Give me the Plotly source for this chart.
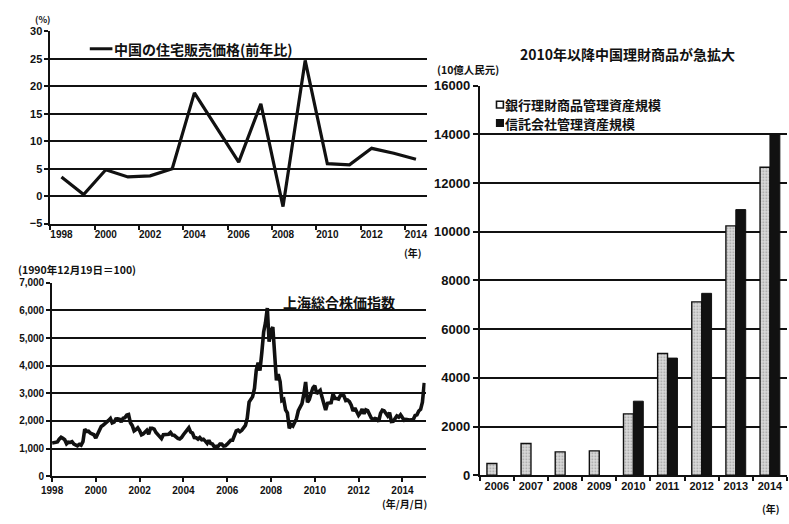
import pandas as pd
import plotly.graph_objects as go

# ---- China housing sale price, year-on-year (%) ----
house_years = list(range(1998, 2015))
house_yoy = [3.5, 0.3, 4.8, 3.5, 3.7, 5.0, 18.8, 12.6, 6.2, 16.8, -1.9, 24.7, 5.9, 5.7, 8.7, 7.8, 6.7]

# ---- Shanghai Composite index, month-end levels (1990-12-19 = 100) ----
sse_1998 = [1210, 1200, 1240, 1340, 1410, 1370, 1320, 1170, 1230, 1220, 1250, 1160]
sse_1999 = [1140, 1100, 1150, 1120, 1250, 1700, 1620, 1630, 1560, 1530, 1500, 1380]
sse_2000 = [1520, 1700, 1800, 1840, 1890, 1930, 2020, 2090, 1930, 1960, 2070, 2080]
sse_2001 = [2060, 1960, 2100, 2120, 2210, 2230, 1930, 1830, 1640, 1690, 1750, 1650]
sse_2002 = [1500, 1530, 1600, 1660, 1520, 1730, 1730, 1700, 1580, 1510, 1440, 1360]
sse_2003 = [1500, 1510, 1500, 1520, 1580, 1490, 1480, 1420, 1370, 1350, 1400, 1500]
sse_2004 = [1590, 1680, 1750, 1600, 1560, 1400, 1390, 1340, 1400, 1320, 1340, 1270]
sse_2005 = [1190, 1300, 1180, 1160, 1060, 1080, 1080, 1160, 1160, 1090, 1100, 1160]
sse_2006 = [1260, 1300, 1300, 1440, 1640, 1670, 1610, 1660, 1750, 1840, 2100, 2680]
sse_2007 = [2790, 2880, 3180, 3840, 4110, 3820, 4470, 5220, 5550, 6090, 4870, 5260]
sse_2008 = [5400, 4350, 3470, 3690, 3430, 2740, 2780, 2400, 2290, 1730, 1870, 1820]
sse_2009 = [1990, 2080, 2370, 2480, 2630, 2960, 3410, 2670, 2780, 3000, 3200, 3280]
sse_2010 = [2990, 3050, 3110, 2870, 2590, 2400, 2640, 2640, 2660, 2980, 2820, 2810]
sse_2011 = [2790, 2910, 2930, 2910, 2740, 2760, 2700, 2570, 2360, 2470, 2330, 2200]
sse_2012 = [2290, 2430, 2260, 2400, 2370, 2230, 2100, 2050, 2090, 2070, 1980, 2270]
sse_2013 = [2390, 2370, 2240, 2180, 2300, 1980, 1990, 2100, 2180, 2140, 2220, 2120]
sse_2014 = [2030, 2060, 2030, 2030, 2040, 2050, 2200, 2220, 2360, 2420, 2680, 3380]
sse_start = 1200

sse_values = [sse_start] + (sse_1998 + sse_1999 + sse_2000 + sse_2001 + sse_2002 + sse_2003
                            + sse_2004 + sse_2005 + sse_2006 + sse_2007 + sse_2008 + sse_2009
                            + sse_2010 + sse_2011 + sse_2012 + sse_2013 + sse_2014)
sse_dates = [pd.Timestamp("1998-01-02")] + list(pd.date_range("1998-01-31", periods=204, freq="ME"))

# ---- Wealth-management assets (billion RMB) ----
wm_years = ["2006", "2007", "2008", "2009", "2010", "2011", "2012", "2013", "2014"]
bank_wmp = [480, 1300, 960, 1000, 2520, 5000, 7120, 10240, 12650]
trust_aum = [None, None, None, None, 3040, 4810, 7470, 10910, 13980]

W, H = 789, 524
INK = "#111111"
NUM_FONT = "Liberation Sans, Arial, sans-serif"
JP_FONT = "Noto Sans CJK JP, sans-serif"


def px(x):
    return x / W


def py(y):
    return 1 - y / H


fig = go.Figure()

fig.add_trace(go.Scatter(x=house_years, y=house_yoy, mode="lines",
                         line=dict(color=INK, width=3.2), xaxis="x", yaxis="y",
                         name="中国の住宅販売価格(前年比)", showlegend=False))

fig.add_trace(go.Scatter(x=sse_dates, y=sse_values, mode="lines",
                         line=dict(color=INK, width=3.6), xaxis="x2", yaxis="y2",
                         name="上海総合株価指数", showlegend=False))

fig.add_trace(go.Bar(x=wm_years, y=bank_wmp, xaxis="x3", yaxis="y3",
                     name="銀行理財商品管理資産規模", showlegend=False,
                     marker=dict(color="#d4d4d4",
                                 line=dict(color=INK, width=1.4),
                                 pattern=dict(shape=".", fgcolor="#555555", bgcolor="#d9d9d9",
                                              size=3, solidity=0.25))))
fig.add_trace(go.Bar(x=wm_years, y=trust_aum, xaxis="x3", yaxis="y3",
                     name="信託会社管理資産規模", showlegend=False,
                     marker=dict(color=INK, line=dict(color=INK, width=1))))

grid = dict(showgrid=True, gridcolor=INK, gridwidth=1.8)
axline = dict(showline=True, linecolor=INK, linewidth=1.8)

fig.update_layout(
    width=W, height=H,
    margin=dict(l=0, r=0, t=0, b=0),
    paper_bgcolor="white", plot_bgcolor="white",
    barmode="group", bargap=0.42, bargroupgap=0.0,
    # housing price chart
    xaxis=dict(domain=[px(40), px(422)], range=[1997.5, 2014.48], anchor="y",
               tickmode="array", tickvals=list(range(1998, 2015, 2)),
               ticktext=[str(v) for v in range(1998, 2015, 2)],
               ticks="", showgrid=False, **axline,
               minor=dict(tickmode="linear", tick0=1997.5, dtick=2, ticks="outside",
                          ticklen=4, tickwidth=1.5, tickcolor=INK, showgrid=False),
               tickfont=dict(family=NUM_FONT, size=10, color=INK, weight="bold")),
    yaxis=dict(domain=[py(223), py(25)], range=[-5, 30], dtick=5, anchor="x",
               ticks="outside", ticklen=4, tickwidth=1.5, tickcolor=INK,
               zeroline=True, zerolinecolor=INK, zerolinewidth=1.8, **grid, **axline,
               tickfont=dict(family=NUM_FONT, size=11, color=INK, weight="bold")),
    # Shanghai composite chart
    xaxis2=dict(domain=[px(41.7), px(421)], range=["1998-01-01", "2015-01-22"], anchor="y2",
                type="date", tickformat="%Y", dtick="M24", tick0="1998-01-01",
                ticks="outside", ticklen=4, tickwidth=1.5, tickcolor=INK,
                showgrid=False, **axline,
                tickfont=dict(family=NUM_FONT, size=10, color=INK, weight="bold")),
    yaxis2=dict(domain=[py(483), py(284)], range=[0, 7000], dtick=1000, anchor="x2",
                tickformat=",", ticks="outside", ticklen=4, tickwidth=1.5, tickcolor=INK,
                zeroline=False, **grid, **axline,
                tickfont=dict(family=NUM_FONT, size=10, color=INK, weight="bold")),
    # wealth-management bar chart
    xaxis3=dict(domain=[px(476), px(788)], anchor="y3", type="category",
                tickson="boundaries", ticks="outside", ticklen=4, tickwidth=1.5, tickcolor=INK,
                tickangle=0, showgrid=False, **axline,
                tickfont=dict(family=NUM_FONT, size=11, color=INK, weight="bold")),
    yaxis3=dict(domain=[py(482), py(81)], range=[0, 16000], dtick=2000, anchor="x3",
                tickformat="d", ticks="outside", ticklen=5, tickwidth=1.5, tickcolor=INK,
                zeroline=False, **grid, **axline,
                tickfont=dict(family=NUM_FONT, size=13, color=INK, weight="bold")),
)


def note(text, x, y, size, xanchor="left", family=JP_FONT):
    fig.add_annotation(text=text, x=px(x), y=py(y), xref="paper", yref="paper",
                       xanchor=xanchor, yanchor="middle", showarrow=False,
                       borderpad=0,
                       font=dict(family=family, size=size, color=INK, weight="bold"))


# housing chart labels and legend
note("(%)", 32, 13, 9, xanchor="center")
fig.add_shape(type="line", xref="paper", yref="paper",
              x0=px(80), x1=px(103), y0=py(43), y1=py(43), line=dict(color=INK, width=3))
note("中国の住宅販売価格(前年比)", 104, 43, 14)
note("(年)", 408, 253, 10, xanchor="center")

# Shanghai composite labels
note("(1990年12月19日＝100)", 6, 270, 10.5)
note("上海総合株価指数", 275, 304, 14)
note("(年/月/日)", 400, 511, 10, xanchor="center")

# bar chart labels and legend
note("2010年以降中国理財商品が急拡大", 626, 48, 14, xanchor="center")
note("(10億人民元)", 432, 64, 10.5)
fig.add_shape(type="rect", xref="paper", yref="paper",
              x0=px(493), x1=px(500), y0=py(104), y1=py(97),
              line=dict(color=INK, width=1.6), fillcolor="white")
fig.add_shape(type="rect", xref="paper", yref="paper",
              x0=px(493), x1=px(500), y0=py(123), y1=py(116),
              line=dict(color=INK, width=1.2), fillcolor=INK)
note("銀行理財商品管理資産規模", 501, 100.5, 13)
note("信託会社管理資産規模", 501, 119.5, 13)
note("(年)", 772, 516, 10, xanchor="center")

fig.write_html("out.html")
